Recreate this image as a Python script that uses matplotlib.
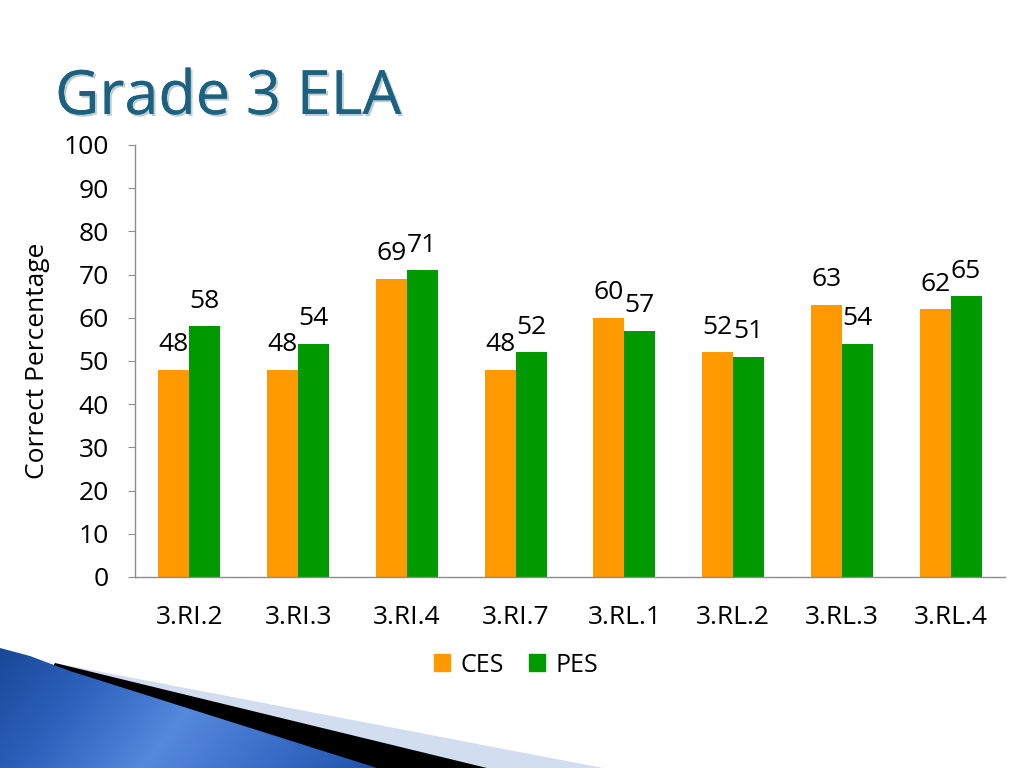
import numpy as np
import matplotlib
matplotlib.use('Agg')
import matplotlib.pyplot as plt
import matplotlib.patheffects as pe
from matplotlib.patches import Polygon, Patch
from matplotlib.colors import LinearSegmentedColormap

plt.rcParams['font.family'] = ['Open Sans', 'DejaVu Sans']

standards = ['3.RI.2', '3.RI.3', '3.RI.4', '3.RI.7', '3.RL.1', '3.RL.2', '3.RL.3', '3.RL.4']
ces = [48, 48, 69, 48, 60, 52, 63, 62]
pes = [58, 54, 71, 52, 57, 51, 54, 65]
yticks = list(range(0, 101, 10))

orange = '#FF9900'
green = '#009900'

fig = plt.figure(figsize=(10.24, 7.68), dpi=100)

# slide decoration in the bottom left corner (pixel coords)
bg = fig.add_axes([0, 0, 1, 1], zorder=0)
bg.add_patch(Polygon([(55, 663), (603, 768), (0, 768)], closed=True, color='#D3DDF0', lw=0, zorder=1))
bg.add_patch(Polygon([(55, 663), (487, 768), (0, 768)], closed=True, color='black', lw=0, zorder=2))
blue = Polygon([(0, 648), (30, 656), (70, 671), (377, 768), (0, 768)], closed=True,
               facecolor='none', lw=0)
bg.add_patch(blue)
gx, gy = np.meshgrid(np.linspace(0, 1, 200), np.linspace(0, 1, 60))
grad = gx + 0.25 * gy
cmap = LinearSegmentedColormap.from_list('slide', ['#174896', '#2E62BE', '#5589DC', '#3A6DC8', '#1E52AA'])
im = bg.imshow(grad, extent=(0, 380, 768, 645), cmap=cmap, aspect='auto', zorder=3)
im.set_clip_path(blue)
bg.set_xlim(0, 1024)
bg.set_ylim(768, 0)
bg.axis('off')

# chart
ax = fig.add_axes([135 / 1024, 1 - 577 / 768, 870 / 1024, 432 / 768], zorder=1)
ax.patch.set_alpha(0)
x = np.arange(len(standards))
w = 0.285
b1 = ax.bar(x - w / 2, ces, w, color=orange, label='CES')
b2 = ax.bar(x + w / 2, pes, w, color=green, label='PES')

for bars, vals in ((b1, ces), (b2, pes)):
    for b, v in zip(bars, vals):
        ax.annotate(str(v), (b.get_x() + b.get_width() / 2, v), xytext=(0, 18),
                    textcoords='offset points', ha='center', va='center', fontsize=19)

ax.set_xlim(-0.5, len(standards) - 0.5)
ax.set_ylim(0, 100)
ax.set_yticks(yticks)
ax.set_xticks(x)
ax.set_xticklabels(standards)
for s in ('top', 'right'):
    ax.spines[s].set_visible(False)
for s in ('left', 'bottom'):
    ax.spines[s].set_color('#8C8C8C')
    ax.spines[s].set_linewidth(1)
ax.tick_params(axis='y', direction='out', length=5, color='#8C8C8C', labelsize=19, pad=14)
ax.tick_params(axis='x', length=0, labelsize=19, pad=20)

fig.text(38 / 1024, 1 - 361 / 768, 'Correct Percentage', rotation=90, fontsize=19,
         ha='center', va='center')

fig.text(55 / 1024, 1 - 98 / 768, 'Grade 3 ELA', fontsize=44, color='#1B6180',
         ha='left', va='center',
         path_effects=[pe.withSimplePatchShadow(offset=(1.5, -1.5), shadow_rgbFace='#9AAAB0', alpha=0.6),
                       pe.Normal()])

handles = [Patch(color=orange, label='CES'), Patch(color=green, label='PES')]
fig.legend(handles=handles, loc='center', bbox_to_anchor=(516 / 1024, 1 - 665 / 768), ncol=2,
           frameon=False, fontsize=18, handlelength=0.65, handleheight=0.65,
           handletextpad=0.4, columnspacing=1.0)

fig.savefig('out.png', dpi=100)
